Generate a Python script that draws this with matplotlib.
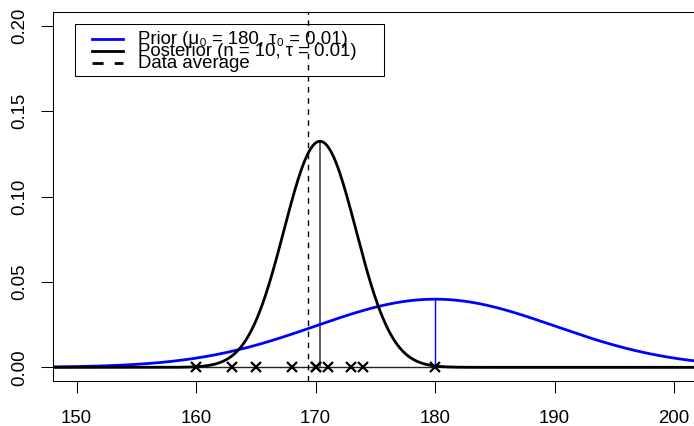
import numpy as np
import matplotlib
matplotlib.use('Agg')
import matplotlib.pyplot as plt
from matplotlib.lines import Line2D
from matplotlib.patches import Rectangle

# observed heights and model settings
data = [160, 163, 165, 168, 170, 170, 171, 173, 174, 180]
mu0 = 180      # prior mean
tau0 = 0.01    # prior precision
tau = 0.01     # data precision
x_ticks = [150, 160, 170, 180, 190, 200]
y_ticks = [0.00, 0.05, 0.10, 0.15, 0.20]

plt.rcParams['font.family'] = ['Liberation Sans', 'DejaVu Sans']
FS = 13.4

n = len(data)
xbar = np.mean(data)
tau_n = tau0 + n * tau
mu_n = (tau0 * mu0 + n * tau * xbar) / tau_n


def dnorm(x, m, prec):
    return np.sqrt(prec / (2 * np.pi)) * np.exp(-0.5 * prec * (x - m) ** 2)


W, H = 694.0, 426.0
fig = plt.figure(figsize=(W / 100, H / 100), dpi=100)
ax = fig.add_axes([52.7 / W, 45 / H, 645.4 / W, 369 / H])

xs = np.linspace(148, 202, 600)
ax.axhline(0, color='#222222', lw=1.0, zorder=1)
ax.plot(xs, dnorm(xs, mu0, tau0), color='blue', lw=2, zorder=3)
ax.plot(xs, dnorm(xs, mu_n, tau_n), color='black', lw=2, zorder=3)
ax.vlines(mu0, 0, dnorm(mu0, mu0, tau0), color='blue', lw=1.0, zorder=2)
ax.vlines(mu_n, 0, dnorm(mu_n, mu_n, tau_n), color='#505050', lw=1.3, zorder=2)
ax.axvline(xbar, color='black', lw=1.0, ls=(0, (4, 4)), zorder=2)
ax.plot(data, np.zeros(n), 'x', color='black', ms=7.5, mew=1.6, zorder=4)

ax.set_xlim(148, 202)
ax.set_ylim(-0.008, 0.208)
ax.set_xticks(x_ticks)
ax.set_xticklabels([str(v) for v in x_ticks])
ax.set_yticks(y_ticks)
ax.set_yticklabels(['%.2f' % v for v in y_ticks])
ax.tick_params(length=8.4, width=0.75, labelsize=FS, color='black')
ax.tick_params(axis='x', pad=12.5)
ax.tick_params(axis='y', pad=9.5)
for lab in ax.get_yticklabels():
    lab.set_rotation(90)
    lab.set_va('center')
for sp in ax.spines.values():
    sp.set_linewidth(0.75)
    sp.set_color('black')


# legend drawn by hand so the rows overlap like the original
def fx(px):
    return px / W


def fy(py):
    return 1 - py / H


fig.add_artist(Rectangle((fx(75), fy(75.7)), fx(384.3) - fx(75), fy(24) - fy(75.7),
                         transform=fig.transFigure, fill=False, lw=0.75, ec='black'))
rows = [
    ('blue', '-', 38.5, 'Prior (μ\u2080 = 180, τ\u2080 = 0.01)'),
    ('black', '-', 50.5, 'Posterior (n = 10, τ = 0.01)'),
    ('black', (0, (4, 4)), 62.5, 'Data average'),
]
for col, ls, yy, txt in rows:
    fig.add_artist(Line2D([fx(92), fx(123)], [fy(yy), fy(yy)], transform=fig.transFigure,
                          color=col, lw=2, ls=ls))
    fig.text(fx(138), fy(yy + 5), txt, fontsize=FS, va='baseline', ha='left')

fig.savefig('out.png', dpi=100)
